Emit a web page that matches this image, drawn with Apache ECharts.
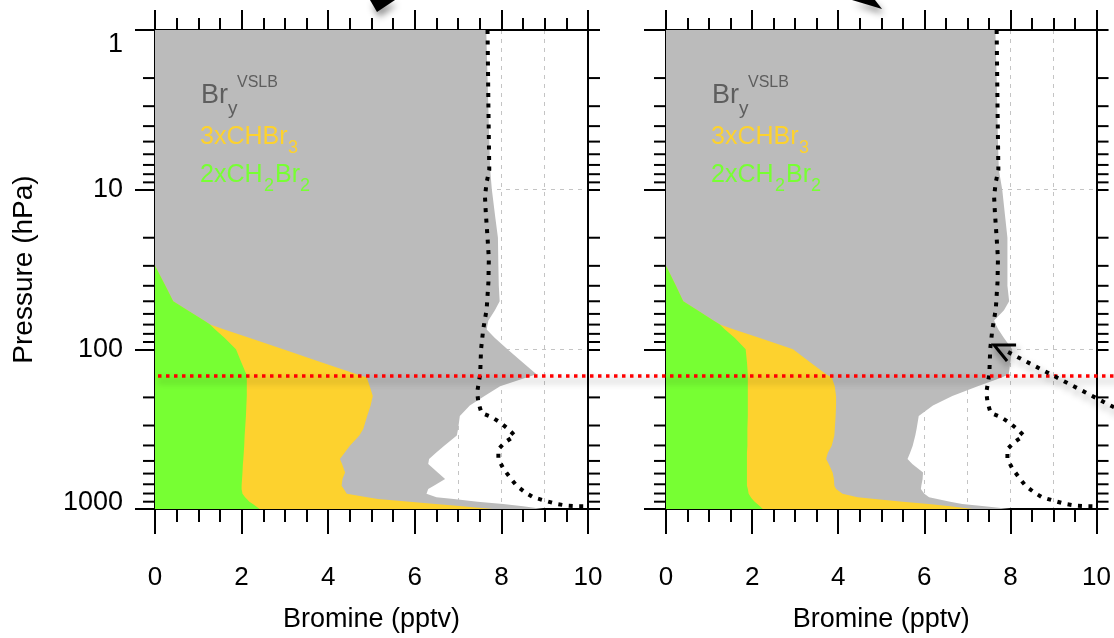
<!DOCTYPE html>
<html>
<head>
<meta charset="utf-8">
<script src="https://cdn.jsdelivr.net/npm/echarts@6/dist/echarts.min.js"></script>
<style>
html,body{margin:0;padding:0;background:#fff;}
#chart{width:1114px;height:638px;}
</style>
</head>
<body>
<div id="chart"></div>
<script>
// ---------------- DATA ----------------
const pressureLevels = [1,2,5,7.5,10,15,20,30,40,50,57,66,70,75,85,100,120,143,150,170,196,225,262,316,347,402,444,487,523,590,649,715,750,803,845,866,900,930,960,1000];

// Left panel components (pptv)
const leftCH2Br2 = [0,0,0,0,0,0,0,0,0.24,0.42,0.75,1.13,1.27,1.39,1.61,1.87,1.99,2.11,2.12,2.12,2.12,2.11,2.10,2.08,2.07,2.06,2.05,2.04,2.03,2.02,2.01,2.00,2.00,2.02,2.08,2.12,2.18,2.26,2.33,2.42];
const leftCHBr3  = [0,0,0,0,0,0,0,0,0,0,0,0,0,0.21,0.58,1.09,1.83,2.55,2.77,2.84,2.91,2.87,2.80,2.73,2.65,2.44,2.33,2.23,2.29,2.37,2.32,2.31,2.36,2.41,2.82,3.03,3.70,4.22,4.77,5.38];
const leftBry    = [7.65,7.68,7.72,7.74,7.78,7.86,7.92,7.93,7.70,7.54,7.10,6.57,6.41,6.06,5.66,5.18,4.66,4.15,3.69,3.01,2.58,2.29,2.14,2.19,2.25,2.18,2.11,2.06,1.99,2.14,2.37,2.13,1.95,1.84,1.60,1.75,1.57,1.56,1.40,1.17];

// Right panel components (pptv)
const rightCH2Br2 = [0,0,0,0,0,0,0,0,0.23,0.40,0.73,1.10,1.25,1.37,1.60,1.85,1.88,1.90,1.90,1.90,1.90,1.90,1.90,1.89,1.89,1.89,1.88,1.88,1.88,1.88,1.88,1.88,1.90,1.92,1.97,2.00,2.06,2.12,2.18,2.25];
const rightCHBr3  = [0,0,0,0,0,0,0,0,0,0,0,0,0,0.21,0.58,1.10,1.46,1.82,1.95,2.02,2.05,2.05,2.04,2.03,2.02,1.96,1.88,1.84,1.90,1.99,2.02,2.03,2.05,2.18,2.48,2.85,3.44,3.98,4.42,4.87];
const rightBry    = [7.65,7.68,7.71,7.73,7.81,7.88,7.93,7.93,7.70,7.57,7.12,6.52,6.41,6.14,5.67,5.09,4.66,4.24,3.95,3.32,2.70,2.25,1.93,1.90,1.88,1.88,1.91,1.89,1.94,2.10,2.06,2.02,1.97,1.90,1.66,1.45,1.10,0.78,0.80,0.88];

// Dotted reference profile (same in both panels)
const dottedPressure = [1,3,7.5,9,11,14,20,27,38,56,75,100,143,186,216,250,266,287,316,347,383,422,487,555,636,715,787,845,888,930,952,960,961];
const dottedBromine  = [7.68,7.70,7.72,7.66,7.62,7.64,7.68,7.71,7.70,7.66,7.58,7.53,7.51,7.44,7.47,7.54,7.78,7.97,8.16,8.31,8.08,7.93,7.93,8.04,8.20,8.35,8.55,8.74,9.01,9.28,9.51,9.74,9.97];

// Marker level (hPa)
const markerPressure = 145;

// Minor tick pressures for the log axis
const minorTickPressures = [2,3,4,5,6,7,8,9,20,30,40,50,60,70,80,90,200,300,400,500,600,700,800,900];

const xTickLabels = [0,2,4,6,8,10];

// ---------------- STYLE ----------------
const FONT = '"Liberation Sans", Arial, Helvetica, sans-serif';
const GRAY = '#bbbbbb', YELLOW = '#fdd22e', GREEN = '#77ff33';

const chart = echarts.init(document.getElementById('chart'), null, {renderer:'canvas'});

function cumulate(a, b) { return a.map((v, i) => v + (b ? b[i] : 0)); }

function areaSeries(xi, yi, cum, color, z) {
  return {
    type: 'custom', xAxisIndex: xi, yAxisIndex: yi, silent: true, z: z,
    data: pressureLevels.map((p, i) => [cum[i], p]),
    renderItem: function (params, api) {
      if (params.dataIndex !== 0) return null;
      const pts = [];
      for (let i = 0; i < pressureLevels.length; i++) pts.push(api.coord([cum[i], pressureLevels[i]]));
      for (let i = pressureLevels.length - 1; i >= 0; i--) pts.push(api.coord([0, pressureLevels[i]]));
      return { type: 'polygon', shape: { points: pts }, style: { fill: color, stroke: null } };
    }
  };
}

function minorTickSeries(xi, yi, leftLen, rightLen) {
  return {
    type: 'custom', xAxisIndex: xi, yAxisIndex: yi, silent: true, z: 10, clip: false,
    data: minorTickPressures.map(p => [0, p]),
    renderItem: function (params, api) {
      const p = api.value(1);
      const a = api.coord([0, p]);
      const b = api.coord([10, p]);
      return { type: 'group', children: [
        { type: 'line', shape: { x1: a[0] - leftLen, y1: a[1], x2: a[0], y2: a[1] }, style: { stroke: '#000', lineWidth: 2 } },
        { type: 'line', shape: { x1: b[0], y1: b[1], x2: b[0] + rightLen, y2: b[1] }, style: { stroke: '#000', lineWidth: 2 } }
      ]};
    }
  };
}

function dottedSeries(xi, yi) {
  return {
    type: 'line', xAxisIndex: xi, yAxisIndex: yi, z: 6, silent: true,
    showSymbol: false, symbol: 'none', smooth: false,
    data: dottedPressure.map((p, i) => [dottedBromine[i], p]),
    lineStyle: { color: '#000', width: 4, type: [4, 6.5], cap: 'butt' }
  };
}

function bottomX(gi) {
  return {
    type: 'value', gridIndex: gi, position: 'bottom', min: 0, max: 10, interval: 2,
    axisLine: { show: true, onZero: false, lineStyle: { color: '#000', width: 2 } },
    axisTick: { show: true, inside: false, length: 25, lineStyle: { color: '#000', width: 2 } },
    minorTick: { show: true, splitNumber: 4, length: 13, lineStyle: { color: '#000', width: 2 } },
    axisLabel: { show: true, margin: 56, fontSize: 26, color: '#000', fontFamily: FONT,
      formatter: v => (xTickLabels.indexOf(v) >= 0 ? String(v) : '') },
    splitLine: { show: false },
    name: 'Bromine (pptv)', nameLocation: 'middle', nameGap: 97,
    nameTextStyle: { fontSize: 27, color: '#000', fontFamily: FONT }
  };
}
function topX(gi) {
  return {
    type: 'value', gridIndex: gi, position: 'top', min: 0, max: 10, interval: 2,
    axisLine: { show: true, onZero: false, lineStyle: { color: '#000', width: 2 } },
    axisTick: { show: true, inside: false, length: 20, lineStyle: { color: '#000', width: 2 } },
    minorTick: { show: true, splitNumber: 4, length: 12, lineStyle: { color: '#000', width: 2 } },
    axisLabel: { show: false }, splitLine: { show: false }
  };
}
function gridX(gi) {
  return {
    type: 'value', gridIndex: gi, position: 'top', min: 0, max: 10, interval: 1, offset: 0,
    axisLine: { show: false }, axisTick: { show: false }, axisLabel: { show: false },
    splitLine: { show: true, lineStyle: { color: '#c4c4c4', width: 1, type: [4, 5] } }
  };
}
function leftY(gi, labels, tickLen) {
  return {
    type: 'log', logBase: 10, gridIndex: gi, position: 'left', min: 1, max: 1000, inverse: true,
    axisLine: { show: true, onZero: false, lineStyle: { color: '#000', width: 2 } },
    axisTick: { show: true, inside: false, length: tickLen, lineStyle: { color: '#000', width: 2 } },
    minorTick: { show: false },
    axisLabel: labels ? {
      show: true, margin: 32, fontSize: 27, color: '#000', fontFamily: FONT,
      formatter: function (v) {
        const r = Math.round(v);
        if (r === 1) return '{t|1}';
        if (r === 1000) return '{b|1000}';
        return String(r);
      },
      rich: {
        t: { fontSize: 27, fontFamily: FONT, color: '#000', padding: [30, 0, 0, 0] },
        b: { fontSize: 27, fontFamily: FONT, color: '#000', padding: [0, 0, 12, 0] }
      }
    } : { show: false },
    splitLine: { show: true, lineStyle: { color: '#c4c4c4', width: 1, type: [4, 5] } },
    name: labels ? 'Pressure (hPa)' : '', nameLocation: 'middle', nameGap: 117, nameRotate: 90,
    nameTextStyle: { fontSize: 28, color: '#000', fontFamily: FONT }
  };
}
function rightY(gi) {
  return {
    type: 'log', logBase: 10, gridIndex: gi, position: 'right', min: 1, max: 1000, inverse: true,
    axisLine: { show: true, onZero: false, lineStyle: { color: '#000', width: 2 } },
    axisTick: { show: true, inside: false, length: 12, lineStyle: { color: '#000', width: 2 } },
    axisLabel: { show: false }, splitLine: { show: false }
  };
}

const lG = cumulate(leftCH2Br2), lY = cumulate(lG, leftCHBr3), lT = cumulate(lY, leftBry);
const rG = cumulate(rightCH2Br2), rY = cumulate(rG, rightCHBr3), rT = cumulate(rY, rightBry);

const option = {
  animation: false,
  backgroundColor: '#ffffff',
  grid: [
    { left: 155, top: 30, width: 433, height: 480 },
    { left: 666, top: 30, width: 432, height: 480 }
  ],
  xAxis: [bottomX(0), topX(0), gridX(0), bottomX(1), topX(1), gridX(1)],
  yAxis: [leftY(0, true, 20), rightY(0), leftY(1, false, 22), rightY(1)],
  series: [
    areaSeries(0, 0, lT, GRAY, 2),
    areaSeries(0, 0, lY, YELLOW, 3),
    areaSeries(0, 0, lG, GREEN, 4),
    dottedSeries(0, 0),
    minorTickSeries(0, 0, 12, 12),
    areaSeries(3, 2, rT, GRAY, 2),
    areaSeries(3, 2, rY, YELLOW, 3),
    areaSeries(3, 2, rG, GREEN, 4),
    dottedSeries(3, 2),
    minorTickSeries(3, 2, 12, 12)
  ]
};
chart.setOption(option);

// ---------------- ANNOTATIONS ----------------
function legendTexts(x0) {
  const t = (dx, y, text, size, color) => ({
    type: 'text', x: x0 + dx, y: y, z: 20, silent: true,
    style: { text: text, fontSize: size, fontFamily: FONT, fill: color, align: 'left', verticalAlign: 'middle' }
  });
  return [
    t(46, 96, 'Br', 27, '#5e5e5e'),
    t(73, 109, 'y', 19, '#5e5e5e'),
    t(82, 83, 'VSLB', 16, '#5e5e5e'),
    t(45, 137, '3xCHBr', 25, YELLOW),
    t(133, 148, '3', 18, YELLOW),
    t(45, 175, '2xCH', 25, GREEN),
    t(109, 186, '2', 18, GREEN),
    t(120, 175, 'Br', 25, GREEN),
    t(145, 186, '2', 18, GREEN)
  ];
}

const p0 = chart.convertToPixel({ xAxisIndex: 0, yAxisIndex: 0 }, [0, markerPressure]);
const tip = chart.convertToPixel({ xAxisIndex: 3, yAxisIndex: 2 }, [7.62, 94]);
const shadow = { shadowBlur: 7, shadowColor: 'rgba(0,0,0,0.45)', shadowOffsetX: 2, shadowOffsetY: 5 };

const graphics = [].concat(
  legendTexts(155), legendTexts(666),
  [
    { type: 'line', z: 30, silent: true,
      shape: { x1: p0[0] + 3, y1: p0[1] + 1, x2: 1120, y2: p0[1] + 1 },
      style: Object.assign({ stroke: '#ff0000', lineWidth: 3.5, lineDash: [3.5, 4.5] }, shadow) },
    { type: 'line', z: 30, silent: true,
      shape: { x1: tip[0] + 14, y1: tip[1] + 7, x2: 1125, y2: tip[1] + 68 },
      style: Object.assign({ stroke: '#000', lineWidth: 4, lineDash: [4, 6.5] }, shadow) },
    { type: 'polyline', z: 30, silent: true,
      shape: { points: [[tip[0] + 22, tip[1]], [tip[0], tip[1]], [tip[0] + 13, tip[1] + 16]] },
      style: Object.assign({ stroke: '#000', lineWidth: 3, fill: null }, shadow) },
    { type: 'polygon', z: 30, silent: true,
      shape: { points: [[370, 0], [395, 0], [377, 12]] },
      style: Object.assign({ fill: '#000' }, shadow) },
    { type: 'polygon', z: 30, silent: true,
      shape: { points: [[852, 0], [875, 0], [882, 9]] },
      style: Object.assign({ fill: '#000' }, shadow) }
  ]
);
chart.setOption({ graphic: graphics });
</script>
</body>
</html>
